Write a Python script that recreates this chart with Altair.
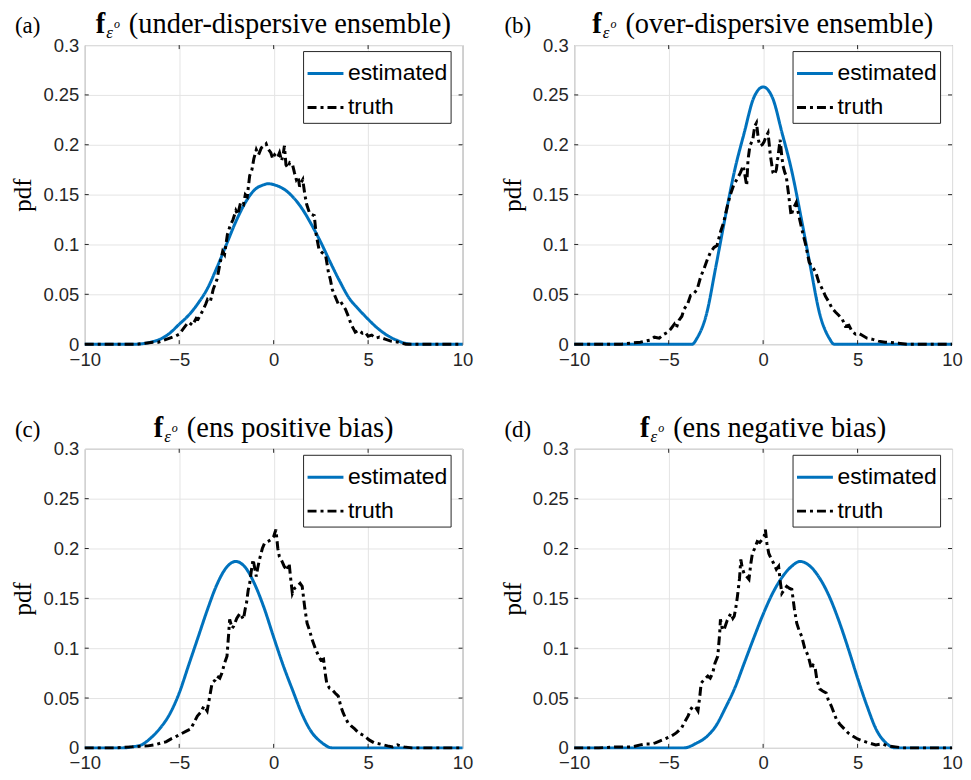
import altair as alt
import pandas as pd

# ---------------- data ----------------
A_EST_X = [-10, -7.3, -6.5, -6, -5.5, -5, -4.5, -4, -3.5, -3, -2.5, -2, -1.5, -1, -0.5, -0.3, 0, 0.5, 1, 1.5, 2, 2.5, 3, 3.5, 4, 4.5, 5, 5.5, 6, 6.5, 7.3, 10]
A_EST_Y = [0, 0, 0.002, 0.005, 0.011, 0.02, 0.029, 0.041, 0.056, 0.077, 0.1, 0.123, 0.142, 0.155, 0.16, 0.161, 0.16, 0.156, 0.148, 0.136, 0.12, 0.102, 0.082, 0.063, 0.046, 0.035, 0.025, 0.016, 0.009, 0.004, 0, 0]
A_TRU_X = [-10, -7.2, -6.8, -6.4, -6.1, -5.8, -5.5, -5.2, -5.0, -4.8, -4.6, -4.5, -4.3, -4.1, -4.0, -3.8, -3.6, -3.5, -3.35, -3.2, -3.0, -2.85, -2.7, -2.6, -2.45, -2.3, -2.15, -2.0, -1.9, -1.75, -1.6, -1.5, -1.4, -1.27, -1.15, -1.05, -0.92, -0.8, -0.65, -0.5, -0.4, -0.3, -0.15, -0.05, 0.05, 0.2, 0.31, 0.42, 0.5, 0.57, 0.65, 0.75, 0.85, 1.0, 1.1, 1.2, 1.3, 1.37, 1.45, 1.54, 1.65, 1.75, 1.89, 2.0, 2.15, 2.25, 2.4, 2.55, 2.75, 2.9, 3.0, 3.1, 3.25, 3.45, 3.6, 3.8, 3.95, 4.1, 4.32, 4.5, 4.7, 4.84, 5.0, 5.19, 5.4, 5.6, 5.9, 6.2, 6.6, 7.0, 10]
A_TRU_Y = [0, 0, 0.001, 0.002, 0.002, 0.004, 0.006, 0.008, 0.01, 0.015, 0.02, 0.022, 0.019, 0.026, 0.025, 0.032, 0.04, 0.045, 0.043, 0.055, 0.065, 0.08, 0.093, 0.09, 0.11, 0.119, 0.125, 0.134, 0.13, 0.142, 0.14, 0.15, 0.148, 0.169, 0.175, 0.186, 0.195, 0.19, 0.197, 0.199, 0.201, 0.196, 0.192, 0.186, 0.19, 0.187, 0.192, 0.184, 0.19, 0.199, 0.18, 0.177, 0.182, 0.18, 0.172, 0.165, 0.168, 0.158, 0.162, 0.165, 0.15, 0.14, 0.132, 0.13, 0.129, 0.11, 0.095, 0.092, 0.089, 0.072, 0.065, 0.055, 0.048, 0.039, 0.041, 0.035, 0.028, 0.02, 0.012, 0.014, 0.011, 0.012, 0.008, 0.009, 0.006, 0.007, 0.005, 0.003, 0.002, 0.0, 0]

B_EST_X = [-10, -3.75, -3.5, -3, -2.5, -2, -1.5, -1, -0.5, 0, 0.5, 1, 1.5, 2, 2.5, 3, 3.5, 3.75, 10]
B_EST_Y = [0, 0, 0.006, 0.03, 0.078, 0.128, 0.175, 0.212, 0.247, 0.258, 0.247, 0.212, 0.175, 0.128, 0.078, 0.03, 0.006, 0, 0]
B_TRU_X = [-10, -7.5, -7.0, -6.5, -6.0, -5.76, -5.5, -5.24, -5.05, -4.9, -4.7, -4.6, -4.45, -4.3, -4.19, -4.0, -3.84, -3.7, -3.49, -3.3, -3.14, -2.95, -2.79, -2.6, -2.44, -2.25, -2.09, -1.9, -1.75, -1.55, -1.4, -1.2, -1.05, -0.95, -0.87, -0.8, -0.7, -0.55, -0.44, -0.35, -0.25, -0.17, -0.05, 0.05, 0.15, 0.26, 0.38, 0.52, 0.6, 0.7, 0.8, 0.9, 0.98, 1.05, 1.15, 1.22, 1.35, 1.48, 1.6, 1.75, 1.9, 2.09, 2.25, 2.44, 2.6, 2.79, 2.95, 3.14, 3.3, 3.49, 3.65, 3.84, 4.0, 4.19, 4.35, 4.54, 4.7, 4.89, 5.05, 5.24, 5.5, 5.76, 6.1, 6.46, 7.16, 7.6, 10]
B_TRU_Y = [0, 0, 0.001, 0.002, 0.004, 0.007, 0.006, 0.01, 0.012, 0.015, 0.02, 0.016, 0.024, 0.028, 0.035, 0.04, 0.049, 0.05, 0.055, 0.068, 0.075, 0.085, 0.092, 0.097, 0.099, 0.113, 0.122, 0.138, 0.149, 0.16, 0.165, 0.172, 0.179, 0.168, 0.159, 0.185, 0.199, 0.205, 0.219, 0.222, 0.205, 0.199, 0.2, 0.203, 0.208, 0.212, 0.19, 0.172, 0.17, 0.175, 0.19, 0.205, 0.19, 0.179, 0.172, 0.169, 0.15, 0.129, 0.136, 0.142, 0.128, 0.112, 0.1, 0.082, 0.078, 0.072, 0.062, 0.055, 0.048, 0.042, 0.036, 0.032, 0.029, 0.025, 0.018, 0.019, 0.013, 0.01, 0.011, 0.009, 0.006, 0.005, 0.003, 0.002, 0.001, 0, 0]

C_EST_X = [-10, -8.0, -7.5, -7, -6.5, -6, -5.5, -5, -4.5, -4, -3.5, -3, -2.5, -2, -1.5, -1, -0.5, 0, 0.5, 1, 1.5, 2, 2.5, 3.1, 10]
C_EST_Y = [0, 0, 0.001, 0.003, 0.01, 0.02, 0.034, 0.055, 0.083, 0.111, 0.139, 0.164, 0.181, 0.187, 0.181, 0.164, 0.14, 0.111, 0.083, 0.058, 0.034, 0.016, 0.006, 0, 0]
C_TRU_X = [-10, -8.4, -7.5, -6.65, -6.3, -5.95, -5.7, -5.43, -5.2, -4.91, -4.6, -4.39, -4.2, -4.04, -3.85, -3.69, -3.52, -3.4, -3.26, -3.1, -3.0, -2.85, -2.74, -2.6, -2.47, -2.38, -2.33, -2.2, -2.12, -1.95, -1.78, -1.6, -1.5, -1.44, -1.35, -1.27, -1.18, -1.09, -0.92, -0.85, -0.75, -0.6, -0.49, -0.3, -0.14, 0.0, 0.12, 0.22, 0.3, 0.42, 0.56, 0.7, 0.82, 0.9, 0.99, 1.1, 1.25, 1.4, 1.51, 1.65, 1.77, 1.9, 2.03, 2.2, 2.38, 2.5, 2.64, 2.75, 2.81, 2.95, 3.07, 3.25, 3.42, 3.55, 3.68, 3.8, 3.94, 4.1, 4.29, 4.5, 4.81, 5.05, 5.33, 5.6, 6.03, 6.3, 6.55, 6.9, 7.3, 10]
C_TRU_Y = [0, 0, 0.001, 0.002, 0.003, 0.005, 0.006, 0.009, 0.011, 0.014, 0.017, 0.019, 0.026, 0.032, 0.036, 0.042, 0.037, 0.05, 0.065, 0.068, 0.072, 0.07, 0.075, 0.085, 0.092, 0.115, 0.129, 0.12, 0.122, 0.13, 0.135, 0.129, 0.14, 0.145, 0.158, 0.165, 0.178, 0.189, 0.172, 0.18, 0.189, 0.2, 0.205, 0.207, 0.209, 0.212, 0.219, 0.2, 0.192, 0.188, 0.182, 0.178, 0.185, 0.17, 0.155, 0.16, 0.162, 0.165, 0.162, 0.14, 0.125, 0.118, 0.109, 0.1, 0.092, 0.088, 0.089, 0.072, 0.065, 0.06, 0.059, 0.055, 0.052, 0.042, 0.035, 0.03, 0.025, 0.022, 0.019, 0.015, 0.012, 0.008, 0.005, 0.004, 0.002, 0.001, 0.003, 0.001, 0, 0]

D_EST_X = [-10, -4.2, -3.5, -3, -2.5, -2, -1.5, -1, -0.5, 0, 0.5, 1, 1.5, 1.95, 2.5, 3, 3.5, 4, 4.5, 5, 5.5, 6, 6.5, 7, 10]
D_EST_Y = [0, 0, 0.005, 0.011, 0.022, 0.04, 0.06, 0.085, 0.11, 0.134, 0.155, 0.171, 0.182, 0.187, 0.182, 0.17, 0.152, 0.128, 0.1, 0.07, 0.042, 0.018, 0.005, 0, 0]
D_TRU_X = [-10, -8.7, -7.8, -6.93, -6.5, -6.24, -5.9, -5.7, -5.45, -5.19, -4.84, -4.6, -4.32, -4.15, -3.97, -3.85, -3.71, -3.55, -3.45, -3.35, -3.28, -3.1, -2.93, -2.8, -2.67, -2.55, -2.4, -2.3, -2.26, -2.15, -2.06, -1.9, -1.71, -1.6, -1.53, -1.45, -1.36, -1.25, -1.18, -1.1, -1.01, -0.88, -0.75, -0.65, -0.57, -0.45, -0.31, -0.18, -0.05, 0.05, 0.12, 0.2, 0.3, 0.42, 0.56, 0.7, 0.82, 0.9, 0.99, 1.1, 1.25, 1.4, 1.52, 1.65, 1.78, 1.9, 2.04, 2.2, 2.39, 2.56, 2.65, 2.74, 2.85, 3.0, 3.15, 3.34, 3.45, 3.61, 3.75, 3.87, 4.05, 4.3, 4.5, 4.74, 5.0, 5.26, 5.6, 5.96, 6.3, 6.6, 7.0, 7.4, 10]
D_TRU_Y = [0, 0, 0.001, 0.001, 0.003, 0.004, 0.004, 0.005, 0.007, 0.009, 0.012, 0.015, 0.02, 0.026, 0.032, 0.038, 0.042, 0.04, 0.037, 0.052, 0.065, 0.069, 0.072, 0.07, 0.075, 0.085, 0.092, 0.115, 0.129, 0.118, 0.119, 0.128, 0.135, 0.13, 0.132, 0.14, 0.152, 0.17, 0.189, 0.18, 0.175, 0.172, 0.169, 0.185, 0.195, 0.2, 0.207, 0.206, 0.209, 0.212, 0.219, 0.205, 0.195, 0.19, 0.185, 0.179, 0.182, 0.168, 0.155, 0.158, 0.162, 0.16, 0.159, 0.14, 0.125, 0.118, 0.112, 0.1, 0.092, 0.079, 0.083, 0.082, 0.068, 0.059, 0.057, 0.055, 0.048, 0.042, 0.035, 0.029, 0.024, 0.019, 0.015, 0.012, 0.009, 0.007, 0.005, 0.003, 0.004, 0.002, 0.001, 0, 0]

TAGS = ["(a)", "(b)", "(c)", "(d)"]
SUBTITLES = ["(under-dispersive ensemble)", "(over-dispersive ensemble)",
             "(ens positive bias)", "(ens negative bias)"]
SERIES = ["estimated", "truth"]
X_TICKS = [-10, -5, 0, 5, 10]
Y_TICKS = [0, 0.05, 0.1, 0.15, 0.2, 0.25, 0.3]
X_INNER = [-5, 0, 5]
Y_INNER = [0.05, 0.1, 0.15, 0.2, 0.25]

# ---------------- layout / style ----------------
W, H = 379, 300
SERIF = "Liberation Serif"
SANS = "Liberation Sans"
BLUE = "#0072BD"
AXC = "#262626"
TITLE_SIZE = 28.5
TITLE_BASE = -12
TICK_LEN = 4

# Times / Liberation Serif advance widths (per em) for title-centering
TW = {" ": .25, "(": .333, ")": .333, "-": .333, "a": .444, "b": .5, "d": .5, "e": .444,
      "g": .5, "i": .278, "l": .278, "m": .778, "n": .5, "o": .5, "p": .5, "r": .333,
      "s": .389, "t": .278, "u": .5, "v": .5}


def text_width(s, size):
    return sum(TW.get(c, 0.5) for c in s) * size


def txt(s, x, y, size, weight="normal", style="normal", font=SERIF):
    return alt.Chart(pd.DataFrame({"t": [s]})).mark_text(
        align="left", baseline="alphabetic", font=font, fontSize=size,
        fontWeight=weight, fontStyle=style, color="black"
    ).encode(x=alt.value(x), y=alt.value(y), text="t:N")


X_ENC = alt.X("x:Q", scale=alt.Scale(domain=[-10, 10], nice=False, zero=False),
              axis=alt.Axis(values=X_TICKS, title=None, format="d", labelFlush=False))
Y_ENC = alt.Y("y:Q", scale=alt.Scale(domain=[0, 0.3], nice=False),
              axis=alt.Axis(values=Y_TICKS, format=".2~f", title="pdf", labelFlush=False))


def panel(tag, sub, ex, ey, tx, ty):
    est = pd.DataFrame({"x": ex, "y": ey, "series": ["estimated"] * len(ex)})
    tru = pd.DataFrame({"x": tx, "y": ty, "series": ["truth"] * len(tx)})
    leg = alt.Legend(
        title=None, orient="none", legendX=W - 160, legendY=6, padding=3,
        strokeColor=AXC, fillColor="white",
        labelFont=SANS, labelFontSize=23, labelColor="black", labelOffset=3,
        symbolType="stroke", symbolSize=1296, symbolStrokeWidth=3,
        rowPadding=2, labelLimit=0,
    )
    enc = dict(
        x=X_ENC, y=Y_ENC,
        color=alt.Color("series:N", scale=alt.Scale(domain=SERIES, range=[BLUE, "#000000"]),
                        legend=leg),
        strokeDash=alt.StrokeDash("series:N",
                                  scale=alt.Scale(domain=SERIES, range=[[1, 0], [9, 4, 3, 4]]),
                                  legend=leg),
    )
    est_line = alt.Chart(est).mark_line(strokeWidth=3, interpolate="monotone").encode(**enc)
    tru_line = alt.Chart(tru).mark_line(strokeWidth=3).encode(**enc)

    # MATLAB-style inward ticks on all four sides
    xt = alt.Chart(pd.DataFrame({"x": X_INNER})).mark_rule(color=AXC, strokeWidth=1)
    yt = alt.Chart(pd.DataFrame({"y": Y_INNER})).mark_rule(color=AXC, strokeWidth=1)
    ticks = [
        xt.encode(x=X_ENC, y=alt.value(H), y2=alt.value(H - TICK_LEN)),
        xt.encode(x=X_ENC, y=alt.value(0), y2=alt.value(TICK_LEN)),
        yt.encode(y=Y_ENC, x=alt.value(0), x2=alt.value(TICK_LEN)),
        yt.encode(y=Y_ENC, x=alt.value(W), x2=alt.value(W - TICK_LEN)),
    ]

    # title: bold f, subscript epsilon, superscript o, then the text
    f_w = 0.333 * TITLE_SIZE + 1
    e_w = 0.45 * 17
    o_w = 0.5 * 12
    gap = 9
    total = f_w + e_w + o_w + gap + text_width(sub, TITLE_SIZE)
    x0 = W / 2 - total / 2
    layers = [
        est_line,
        tru_line,
        *ticks,
        txt(tag, -70, TITLE_BASE, 23),
        txt("f", x0, TITLE_BASE, TITLE_SIZE, weight="bold"),
        txt("ε", x0 + f_w, TITLE_BASE + 5, 17, style="italic"),
        txt("o", x0 + f_w + e_w, TITLE_BASE - 5, 12, style="italic"),
        txt(sub, x0 + f_w + e_w + o_w + gap, TITLE_BASE, TITLE_SIZE),
    ]
    return alt.layer(*layers).properties(width=W, height=H)


panels = [
    panel(TAGS[0], SUBTITLES[0], A_EST_X, A_EST_Y, A_TRU_X, A_TRU_Y),
    panel(TAGS[1], SUBTITLES[1], B_EST_X, B_EST_Y, B_TRU_X, B_TRU_Y),
    panel(TAGS[2], SUBTITLES[2], C_EST_X, C_EST_Y, C_TRU_X, C_TRU_Y),
    panel(TAGS[3], SUBTITLES[3], D_EST_X, D_EST_Y, D_TRU_X, D_TRU_Y),
]

chart = alt.concat(
    *panels, columns=2, spacing={"row": 105, "column": 112}, bounds="flush"
).resolve_scale(
    color="independent", strokeDash="independent"
).resolve_legend(
    color="independent", strokeDash="independent"
).properties(
    padding={"left": 2, "top": 0, "right": 0, "bottom": -1}, background="white"
).configure_view(
    stroke="#7a7a7a", strokeWidth=1
).configure_axis(
    grid=True, gridColor="#e4e4e4", gridWidth=1, domain=False, ticks=False, tickSize=0,
    labelFont=SANS, labelFontSize=18.5, labelColor=AXC,
    titleFont=SERIF, titleFontSize=25, titleFontWeight="normal", titleColor="black",
).configure_axisX(
    labelPadding=6
).configure_axisY(
    labelPadding=6, titlePadding=7
)

chart.save("out.html", embed_options={"renderer": "svg", "actions": False})
